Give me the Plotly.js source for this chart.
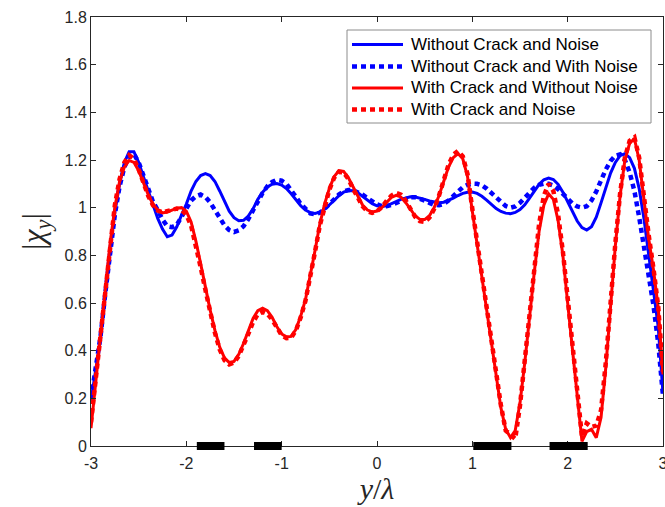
<!DOCTYPE html>
<html>
<head>
<meta charset="utf-8">
<script src="https://cdn.plot.ly/plotly-3.0.1.min.js"></script>
<style>html,body{margin:0;padding:0;background:#fff;}#chart{width:665px;height:507px;}</style>
</head>
<body>
<div id="chart"></div>
<script>
// y/lambda positions
var yLambda = [-3.00,-2.95,-2.90,-2.85,-2.80,-2.75,-2.70,-2.65,-2.60,-2.55,-2.50,-2.45,-2.40,-2.35,-2.30,-2.25,-2.20,-2.15,-2.10,-2.05,
  -2.00,-1.95,-1.90,-1.85,-1.80,-1.75,-1.70,-1.65,-1.60,-1.55,-1.50,-1.45,-1.40,-1.35,-1.30,-1.25,-1.20,-1.15,-1.10,-1.05,
  -1.00,-0.95,-0.90,-0.85,-0.80,-0.75,-0.70,-0.65,-0.60,-0.55,-0.50,-0.45,-0.40,-0.35,-0.30,-0.25,-0.20,-0.15,-0.10,-0.05,
  0.00,0.05,0.10,0.15,0.20,0.25,0.30,0.35,0.40,0.45,0.50,0.55,0.60,0.65,0.70,0.75,0.80,0.85,0.90,0.95,
  1.00,1.05,1.10,1.15,1.20,1.25,1.30,1.35,1.40,1.45,1.50,1.55,1.60,1.65,1.70,1.75,1.80,1.85,1.90,1.95,
  2.00,2.05,2.10,2.15,2.20,2.25,2.30,2.35,2.40,2.45,2.50,2.55,2.60,2.65,2.70,2.75,2.80,2.85,2.90,2.95,3.00];

var noCrackNoNoise = [0.19,0.32,0.45,0.64,0.83,0.98,1.10,1.19,1.235,1.235,1.19,1.13,1.07,1.01,0.955,0.91,0.878,0.885,0.92,0.97,
  1.015,1.07,1.11,1.135,1.143,1.135,1.11,1.07,1.025,0.985,0.958,0.945,0.947,0.965,0.995,1.035,1.065,1.087,1.098,1.101,
  1.095,1.08,1.058,1.032,1.008,0.99,0.979,0.976,0.981,0.993,1.01,1.03,1.05,1.065,1.072,1.071,1.062,1.048,1.032,1.017,
  1.008,1.005,1.008,1.015,1.025,1.035,1.042,1.046,1.045,1.041,1.035,1.028,1.023,1.021,1.023,1.03,1.04,1.051,1.06,1.065,
  1.066,1.06,1.048,1.032,1.013,0.996,0.984,0.977,0.975,0.98,0.992,1.012,1.04,1.07,1.098,1.117,1.124,1.118,1.098,1.065,
  1.025,0.982,0.944,0.916,0.906,0.92,0.96,1.02,1.085,1.145,1.19,1.218,1.226,1.21,1.165,1.08,0.955,0.81,0.665,0.5,0.22];

var noCrackWithNoise = [0.2,0.33,0.46,0.64,0.82,0.97,1.09,1.17,1.215,1.225,1.19,1.135,1.075,1.025,0.99,0.95,0.922,0.918,0.928,0.96,
  1.0,1.03,1.048,1.055,1.045,1.022,0.99,0.955,0.926,0.906,0.898,0.905,0.922,0.952,0.99,1.03,1.062,1.09,1.108,1.117,
  1.113,1.1,1.075,1.045,1.015,0.992,0.976,0.972,0.979,0.995,1.015,1.036,1.055,1.068,1.074,1.073,1.066,1.054,1.04,1.026,
  1.014,1.007,1.006,1.011,1.02,1.03,1.039,1.044,1.044,1.039,1.03,1.02,1.012,1.01,1.016,1.03,1.05,1.07,1.086,1.096,
  1.101,1.1,1.094,1.08,1.062,1.042,1.022,1.007,1.0,1.005,1.02,1.042,1.066,1.084,1.096,1.101,1.1,1.093,1.078,1.058,
  1.037,1.018,1.005,1.0,1.006,1.03,1.068,1.115,1.16,1.196,1.218,1.224,1.2,1.148,1.07,0.96,0.84,0.72,0.59,0.43,0.21];

var crackNoNoise = [0.075,0.27,0.46,0.66,0.85,1.0,1.11,1.17,1.198,1.19,1.155,1.105,1.055,1.015,0.99,0.978,0.982,0.99,0.998,1.0,
  0.985,0.94,0.86,0.765,0.665,0.57,0.485,0.415,0.37,0.35,0.355,0.385,0.43,0.485,0.535,0.568,0.578,0.568,0.54,0.5,
  0.47,0.458,0.46,0.49,0.545,0.615,0.71,0.82,0.93,1.015,1.08,1.13,1.155,1.152,1.125,1.085,1.045,1.01,0.99,0.982,
  0.986,1.0,1.022,1.043,1.052,1.045,1.022,0.992,0.966,0.951,0.95,0.966,1.0,1.05,1.11,1.17,1.21,1.227,1.205,1.13,
  0.985,0.85,0.71,0.57,0.43,0.29,0.16,0.07,0.035,0.065,0.18,0.35,0.55,0.73,0.9,1.01,1.058,1.035,0.945,0.8,
  0.6,0.4,0.2,0.02,0.06,0.07,0.035,0.12,0.33,0.6,0.84,1.05,1.2,1.27,1.29,1.2,1.03,0.87,0.74,0.58,0.3];

var crackWithNoise = [0.1,0.29,0.48,0.67,0.86,1.01,1.12,1.19,1.22,1.205,1.16,1.105,1.05,1.01,0.988,0.98,0.985,0.992,0.996,0.99,
  0.97,0.925,0.845,0.75,0.655,0.56,0.475,0.405,0.36,0.342,0.35,0.378,0.42,0.47,0.52,0.553,0.563,0.555,0.53,0.495,
  0.465,0.452,0.455,0.485,0.54,0.61,0.705,0.815,0.925,1.01,1.075,1.125,1.15,1.148,1.12,1.078,1.038,1.005,0.985,0.978,
  0.985,1.002,1.028,1.05,1.062,1.055,1.03,0.995,0.962,0.943,0.94,0.958,0.995,1.05,1.115,1.18,1.222,1.238,1.215,1.14,
  0.995,0.86,0.72,0.58,0.44,0.3,0.17,0.065,0.05,0.03,0.17,0.35,0.56,0.75,0.93,1.05,1.1,1.07,0.97,0.815,
  0.61,0.41,0.21,0.04,0.095,0.08,0.085,0.15,0.35,0.61,0.85,1.06,1.21,1.28,1.295,1.21,1.04,0.885,0.745,0.585,0.31];

var seriesNames = ['Without Crack and Noise','Without Crack and With Noise','With Crack and Without Noise','With Crack and Noise'];

// crack segments along y/lambda
var crackStart = [-1.89,-1.29,1.01,1.81];
var crackEnd   = [-1.60,-1.00,1.41,2.21];

var xTicks = [-3,-2,-1,0,1,2,3];
var xTickLabels = ['-3','-2','-1','0','1','2','3'];
var yTicks = [0,0.2,0.4,0.6,0.8,1,1.2,1.4,1.6,1.8];
var yTickLabels = ['0','0.2','0.4','0.6','0.8','1','1.2','1.4','1.6','1.8'];

var BLUE = '#0000ff', RED = '#ff0000';
var dotted = '5px,4px';
var styles = [
  {color: BLUE, width: 3},
  {color: BLUE, width: 4.5, dash: dotted},
  {color: RED, width: 3},
  {color: RED, width: 4.5, dash: dotted}
];
var seriesData = [noCrackNoNoise, noCrackWithNoise, crackNoNoise, crackWithNoise];

var traces = seriesData.map(function(d, i) {
  return {x: yLambda, y: d, name: seriesNames[i], mode: 'lines', line: styles[i], showlegend: false};
});

// plot area geometry (px) for the hand-built legend
var W = 665, H = 507, mL = 91, mR = 2, mT = 17, mB = 61;
var pw = W - mL - mR, ph = H - mT - mB;
function px2x(p) { return (p - mL) / pw; }
function py2y(p) { return (H - mB - p) / ph; }

var shapes = crackStart.map(function(s, i) {
  return {type: 'rect', xref: 'x', yref: 'paper', x0: s, x1: crackEnd[i], y0: -4 / ph, y1: 4 / ph,
          fillcolor: '#000', line: {width: 0}, layer: 'above'};
});

// legend box
shapes.push({type: 'rect', xref: 'paper', yref: 'paper', x0: px2x(347), x1: px2x(651), y0: py2y(123), y1: py2y(30),
             fillcolor: '#fff', line: {color: '#8c8c8c', width: 1}, layer: 'above'});
var annotations = [];
var rowY = [44.5, 66.5, 88, 109.5];
seriesNames.forEach(function(n, i) {
  shapes.push({type: 'line', xref: 'paper', yref: 'paper', x0: px2x(352), x1: px2x(403), y0: py2y(rowY[i]), y1: py2y(rowY[i]),
               line: styles[i], layer: 'above'});
  annotations.push({xref: 'paper', yref: 'paper', x: px2x(409), y: py2y(rowY[i]), xanchor: 'left', yanchor: 'middle',
                    text: n, showarrow: false, font: {family: 'Arial, Liberation Sans, sans-serif', size: 17, color: '#000'}});
});

var axCol = '#262626';
var layout = {
  width: W, height: H,
  margin: {l: mL, r: mR, t: mT, b: mB},
  paper_bgcolor: '#fff', plot_bgcolor: '#fff',
  showlegend: false,
  xaxis: {range: [-3, 3], tickvals: xTicks, ticktext: xTickLabels, ticks: 'inside', ticklen: 5,
          tickcolor: axCol, showline: true, linecolor: axCol, linewidth: 1, mirror: 'ticks',
          showgrid: false, zeroline: false, ticklabeloverflow: 'allow', ticklabelstandoff: 3,
          tickfont: {family: 'Arial, Liberation Sans, sans-serif', size: 16, color: axCol},
          title: {text: '<i>y</i>/<i>λ</i>', standoff: 4,
                  font: {family: 'Liberation Serif, Times New Roman, serif', size: 30, color: axCol}}},
  yaxis: {range: [0, 1.8], tickvals: yTicks, ticktext: yTickLabels, ticks: 'inside', ticklen: 5,
          tickcolor: axCol, showline: true, linecolor: axCol, linewidth: 1, mirror: 'ticks',
          showgrid: false, zeroline: false,
          tickfont: {family: 'Arial, Liberation Sans, sans-serif', size: 16, color: axCol},
          title: {text: '|<i>χ</i><sub><i>y</i></sub>|', standoff: 10,
                  font: {family: 'Liberation Serif, Times New Roman, serif', size: 32, color: axCol}}},
  shapes: shapes,
  annotations: annotations
};

Plotly.newPlot('chart', traces, layout, {displayModeBar: false, staticPlot: true});
</script>
</body>
</html>
